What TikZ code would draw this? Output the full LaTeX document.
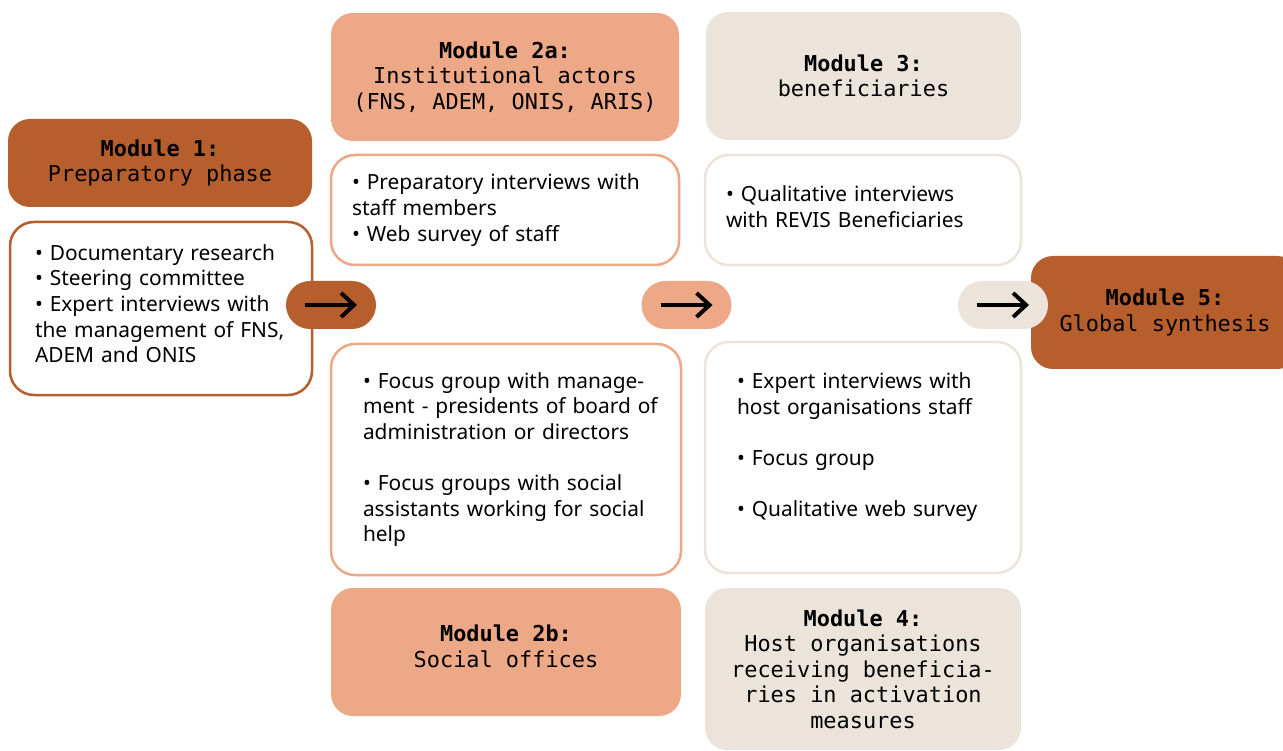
\documentclass[tikz,border=0pt]{standalone}
\usepackage{fontspec}
\setmainfont{Noto Sans}
\newfontfamily\modfont{DejaVu Sans Mono}
\usetikzlibrary{arrows.meta}
\definecolor{rust}{HTML}{B65F2D}
\definecolor{salmon}{HTML}{EDA887}
\definecolor{sand}{HTML}{ECE4DB}
\begin{document}
\begin{tikzpicture}[x=1pt,y=1pt,
  modhead/.style={rounded corners=22pt, inner sep=0pt, align=center, text=black,
    font=\modfont\fontsize{21.9}{25.5}\selectfont},
  modbody/.style={rounded corners=24pt, line width=2.5pt, fill=white, inner ysep=0pt,
    align=left, font=\fontsize{20.9}{25.6}\selectfont},
  arrpill/.style={rounded corners=24pt, minimum width=90pt, minimum height=48pt, inner sep=0pt},
  arrline/.style={line width=4pt, -{Straight Barb[length=13pt,width=24pt]}}]
  \clip (0,0) rectangle (1283,-751);
  \fill[white] (0,0) rectangle (1283,-751);
  \node[modhead, fill=rust, minimum width=304pt, minimum height=88pt] (m1) at (160,-163)
    {{\bfseries Module 1:}\\Preparatory phase};
  \node[modbody, draw=rust, inner xsep=25pt, text width=252pt, minimum height=173pt] (m1list) at (161,-308.5)
    {• Documentary research\\• Steering committee\\• Expert interviews with\\the management of FNS,\\ADEM and ONIS\\[-15.6pt]\mbox{}};
  \node[modhead, fill=salmon, minimum width=348pt, minimum height=128pt] (m2a) at (505,-77)
    {{\bfseries Module 2a:}\\Institutional actors\\(FNS, ADEM, ONIS, ARIS)};
  \node[modbody, draw=salmon, inner xsep=21pt, text width=306pt, minimum height=110pt] (m2alist) at (505,-210)
    {• Preparatory interviews with\\staff members\\• Web survey of staff};
  \node[modbody, draw=salmon, inner xsep=32pt, text width=286pt, minimum height=231pt] (m2blist) at (506,-459.5)
    {• Focus group with manage-\\\mbox{ment - presidents of board of}\\administration or directors\\[25.6pt]%
     • Focus groups with social\\\mbox{assistants working for social}\\help};
  \node[modhead, fill=salmon, minimum width=350pt, minimum height=128pt] (m2b) at (506,-652)
    {{\bfseries Module 2b:}\\Social offices\\[-14pt]};
  \node[modhead, fill=sand, minimum width=315pt, minimum height=128pt] (m3) at (863.5,-76)
    {{\bfseries Module 3:}\\beneficiaries};
  \node[modbody, draw=sand, inner xsep=21pt, text width=274pt, minimum height=110pt] (m3list) at (863,-210)
    {• Qualitative interviews\\with REVIS Beneficiaries\\[-19pt]\mbox{}};
  \node[modbody, draw=sand, inner xsep=32pt, text width=252pt, minimum height=231pt] (m4list) at (863,-457.5)
    {• Expert interviews with\\host organisations staff\\[25.6pt]• Focus group\\[25.6pt]• Qualitative web survey\\[0pt]\mbox{}};
  \node[modhead, fill=sand, minimum width=316pt, minimum height=162pt] (m4) at (863,-669)
    {{\bfseries Module 4:}\\Host organisations\\receiving beneficia-\\ries in activation\\measures};
  \node[modhead, fill=rust, minimum width=268pt, minimum height=113pt] (m5) at (1165,-312.5)
    {{\bfseries Module 5:}\\Global synthesis};
  \node[arrpill, fill=rust] (a1) at (331,-305) {};
  \node[arrpill, fill=salmon] (a2) at (686.5,-305) {};
  \node[arrpill, fill=sand] (a3) at (1003,-305) {};
  \draw[arrline] ([xshift=-26pt]a1.center) -- ([xshift=26pt]a1.center);
  \draw[arrline] ([xshift=-26pt]a2.center) -- ([xshift=26pt]a2.center);
  \draw[arrline] ([xshift=-26pt]a3.center) -- ([xshift=26pt]a3.center);
\end{tikzpicture}
\end{document}
